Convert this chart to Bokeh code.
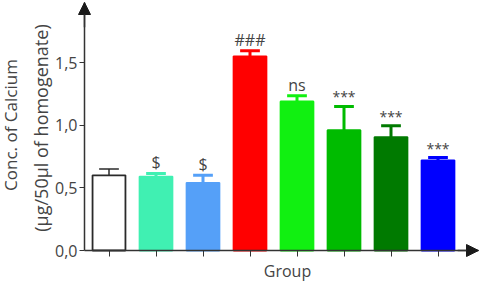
import numpy as np
from bokeh.plotting import figure
from bokeh.models import (ColumnDataSource, FixedTicker, Label, Arrow, NormalHead, Range1d)
from bokeh.core.properties import value
from bokeh.embed import file_html
from bokeh.resources import INLINE

# ---- data ----
groups = [1, 2, 3, 4, 5, 6, 7, 8]
means = [0.60, 0.59, 0.54, 1.55, 1.19, 0.96, 0.905, 0.72]
errors = [0.05, 0.025, 0.06, 0.045, 0.045, 0.19, 0.09, 0.022]
fill_colors = ["#FFFFFF", "#40F0B2", "#55A0F8", "#FF0000", "#11F011", "#00BB00", "#007A00", "#0000FF"]
edge_colors = ["#2A2A2A", "#40F0B2", "#55A0F8", "#FF0000", "#11F011", "#00BB00", "#007A00", "#0000FF"]
err_widths = [1.5, 3, 3, 3, 3, 3, 3, 3]
annotations = ["$", "$", "###", "ns", "***", "***", "***"]
annot_groups = [2, 3, 4, 5, 6, 7, 8]
annot_sizes = ["16px", "16px", "16px", "16px", "14px", "14px", "14px"]
yticks = [0.0, 0.5, 1.0, 1.5]
ytick_labels = ["0,0", "0,5", "1,0", "1,5"]
y_label_1 = "Conc. of Calcium"
y_label_2 = "(\u00b5g/50\u00b5l of homogenate)"
x_label = "Group"

FONT = "Open Sans"
AX = "#333333"
TXT = "#444444"

W, H = 480, 283
PX = 47.0          # pixels per group step
PY = 125.3         # pixels per unit on y
X0_PX, Y0_PX = 108.5, 250.0   # pixel position of group 1 / y=0
AXIS_PX = 84.0

x = np.array(groups, dtype=float)
m = np.array(means)
e = np.array(errors)
cap_half = 0.21

src = ColumnDataSource(dict(
    x=x, top=m, upper=m + e, fill=fill_colors, edge=edge_colors, ew=err_widths,
    cx0=x - cap_half, cx1=x + cap_half,
))
idx = [groups.index(g) for g in annot_groups]
asrc = ColumnDataSource(dict(x=x[idx], y=(m + e)[idx], ann=annotations, asz=annot_sizes))

x_start = 1 - X0_PX / PX
x_end = 1 + (W - X0_PX) / PX
y_start = -(H - Y0_PX) / PY
y_end = Y0_PX / PY
x_axis_at = 1 - (X0_PX - AXIS_PX) / PX
x_arrow = 1 + (W - 2 - X0_PX) / PX
y_arrow = (Y0_PX - 2) / PY

p = figure(width=W, height=H, output_backend="svg", toolbar_location=None,
           x_range=Range1d(x_start, x_end), y_range=Range1d(y_start, y_end),
           min_border_left=0, min_border_right=0, min_border_top=0, min_border_bottom=0)
p.outline_line_color = None
p.grid.visible = False
p.background_fill_color = "white"

p.vbar(x="x", top="top", width=0.70, bottom=0, source=src,
       fill_color="fill", line_color="edge", line_width=1.8)
p.segment(x0="x", y0="top", x1="x", y1="upper", source=src, line_color="edge", line_width="ew")
p.segment(x0="cx0", y0="upper", x1="cx1", y1="upper", source=src, line_color="edge", line_width="ew")

p.text(x="x", y="y", text="ann", source=asrc, text_align="center",
       text_baseline="bottom", y_offset=0, text_font=value(FONT),
       text_font_size="asz", text_color=TXT)

# axes (fixed inside the frame)
xa = p.xaxis[0]
xa.fixed_location = 0
xa.bounds = (x_axis_at, x_arrow)
xa.ticker = FixedTicker(ticks=groups)
xa.major_label_overrides = {g: "" for g in groups}
xa.major_label_standoff = 0
xa.major_tick_out = 6
xa.major_tick_in = 0
xa.minor_tick_line_color = None
xa.axis_line_color = AX
xa.axis_line_width = 1.5
xa.major_tick_line_color = AX

ya = p.yaxis[0]
ya.fixed_location = x_axis_at
ya.bounds = (0, y_arrow)
ya.ticker = FixedTicker(ticks=yticks)
ya.major_label_overrides = {t: l for t, l in zip(yticks, ytick_labels)}
ya.major_label_text_font = FONT
ya.major_label_text_font_size = "16px"
ya.major_label_text_color = TXT
ya.major_tick_out = 5
ya.major_tick_in = 0
ya.minor_tick_line_color = None
ya.axis_line_color = AX
ya.axis_line_width = 1.5
ya.major_tick_line_color = AX
ya.major_label_standoff = 2

# arrow heads on axes
p.add_layout(Arrow(end=NormalHead(size=12, fill_color="#1A1A1A", line_color="#1A1A1A"),
                   x_start=x_axis_at, y_start=y_arrow * 0.9, x_end=x_axis_at, y_end=y_arrow,
                   line_color=AX, line_width=1.5))
p.add_layout(Arrow(end=NormalHead(size=12, fill_color="#1A1A1A", line_color="#1A1A1A"),
                   x_start=x_arrow * 0.95, y_start=0, x_end=x_arrow, y_end=0,
                   line_color=AX, line_width=1.5))

# titles (screen units, y from bottom)
for txt, xs, ys, fs in [(y_label_1, 10, H - 124.5, "17px"), (y_label_2, 40, H - 127.5, "18px")]:
    p.add_layout(Label(x=xs, y=ys, x_units="screen", y_units="screen", text=txt,
                       angle=np.pi / 2, text_align="center", text_baseline="middle",
                       text_font=FONT, text_font_size=fs, text_color=TXT))
p.add_layout(Label(x=287, y=H - 270, x_units="screen", y_units="screen", text=x_label,
                   text_align="center", text_baseline="middle",
                   text_font=FONT, text_font_size="16px", text_color=TXT))

open("out.html", "w").write(file_html(p, INLINE))
